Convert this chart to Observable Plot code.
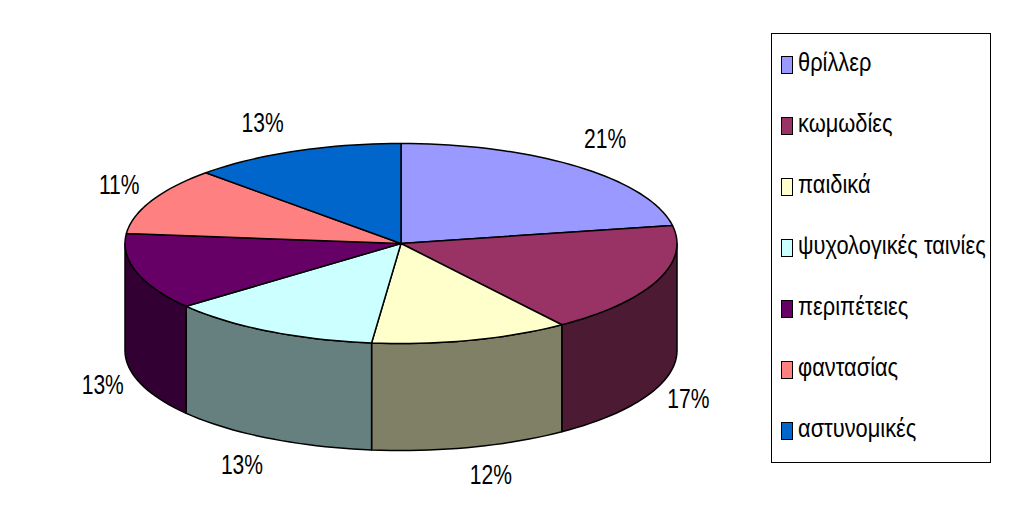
<!DOCTYPE html>
<html><head><meta charset="utf-8">
<script src="https://cdn.jsdelivr.net/npm/d3@7"></script>
<script src="https://cdn.jsdelivr.net/npm/@observablehq/plot@0.6"></script>
<style>
html,body{margin:0;padding:0;background:#fff;}
#wrap{position:relative;width:1023px;height:510px;overflow:hidden;font-family:"Liberation Sans",sans-serif;}
#legend{position:absolute;left:771px;top:33px;width:218px;height:428px;border:1px solid #000;box-sizing:content-box;}
.row{position:absolute;left:9px;height:24px;display:flex;align-items:center;white-space:nowrap;font-size:26px;color:#000;}
.sw{width:10px;height:16px;border:1.5px solid #000;margin-right:5px;flex:none;}
.tx{display:inline-block;transform:scaleX(.84);transform-origin:left center;position:relative;top:-2.5px;}
</style></head><body><div id="wrap"></div>
<script>
const categories = ["θρίλλερ","κωμωδίες","παιδικά","ψυχολογικές ταινίες","περιπέτειες","φαντασίας","αστυνομικές"];
const percentLabels = ["21%","17%","12%","13%","13%","11%","13%"];
const drawnShares = [22.1,18,11.6,12.5,12.4,10.9,12.5];
const topColors = ["#9999FF","#993366","#FFFFCC","#CCFFFF","#660066","#FF8080","#0066CC"];
const wallColors = ["#4D1A33","#4D1A33","#808066","#668080","#330033","#804040","#003366"];

const depth = 1.07;
const rad = d => d * Math.PI / 180;
const px = a => Math.sin(rad(a));
const py = a => Math.cos(rad(a));
function arc(a0, a1) {
  const n = Math.max(1, Math.ceil(Math.abs(a1 - a0) / 2)), out = [];
  for (let i = 0; i <= n; i++) out.push(a0 + (a1 - a0) * i / n);
  return out;
}
const slices = [];
let cum = 0;
drawnShares.forEach((s, i) => {
  const a0 = cum * 3.6, a1 = (cum + s) * 3.6;
  slices.push({i, a0, a1, mid: (a0 + a1) / 2});
  cum += s;
});
const topPts = [], wallPts = [];
for (const s of slices) {
  const ring = [{x:0,y:0}, ...arc(s.a0, s.a1).map(a => ({x:px(a), y:py(a)})), {x:0,y:0}];
  ring.forEach(p => topPts.push({...p, k:categories[s.i], c:topColors[s.i]}));
  const w0 = Math.max(s.a0, 90), w1 = Math.min(s.a1, 270);
  if (w1 > w0) {
    const upper = arc(w0, w1).map(a => ({x:px(a), y:py(a)}));
    const lower = arc(w1, w0).map(a => ({x:px(a), y:py(a) - depth}));
    [...upper, ...lower, upper[0]].forEach(p => wallPts.push({...p, k:categories[s.i], c:wallColors[s.i]}));
  }
}
const labelNudge = [[1,0],[-7,-2],[9,-6],[-7,-4],[6,-4],[5,0],[-17,5]];
const labelMarks = slices.map(s => {
  const lower = s.mid > 90 && s.mid < 270;
  return Plot.text([percentLabels[s.i]], {
    x: () => px(s.mid) * 1.15,
    y: () => py(s.mid) * 1.35 - (lower ? depth : 0),
    text: d => d,
    dx: labelNudge[s.i][0], dy: labelNudge[s.i][1],
    fontSize: 27, fill: "#000"
  });
});
const chart = Plot.plot({
  width: 1023, height: 510,
  margin: 0,
  style: {background:"transparent", fontFamily:'"Liberation Sans",sans-serif'},
  x: {domain:[-1,1], range:[124.5,676.5], axis:null},
  y: {domain:[1,-1], range:[143,343], axis:null},
  color: {type:"identity"},
  marks: [
    Plot.line(wallPts, {x:"x", y:"y", z:"k", fill:"c", stroke:"#000", strokeWidth:1.5, curve:"linear"}),
    Plot.line(topPts, {x:"x", y:"y", z:"k", fill:"c", stroke:"#000", strokeWidth:1.5, curve:"linear"}),
    ...labelMarks
  ]
});
const wrap = document.getElementById("wrap");
wrap.appendChild(chart);
// The reference's lettering is condensed: squeeze each label horizontally.
d3.select(chart).selectAll("text").each(function () {
  this.setAttribute("lengthAdjust", "spacingAndGlyphs");
  this.setAttribute("textLength", this.getComputedTextLength() * 0.78);
});
const legend = document.createElement("div");
legend.id = "legend";
categories.forEach((c, i) => {
  const r = document.createElement("div");
  r.className = "row";
  r.style.top = (19 + i * 61) + "px";
  const sw = document.createElement("span");
  sw.className = "sw"; sw.style.background = topColors[i];
  const t = document.createElement("span");
  t.className = "tx";
  t.textContent = c;
  r.append(sw, t);
  legend.appendChild(r);
});
wrap.appendChild(legend);
</script></body></html>
